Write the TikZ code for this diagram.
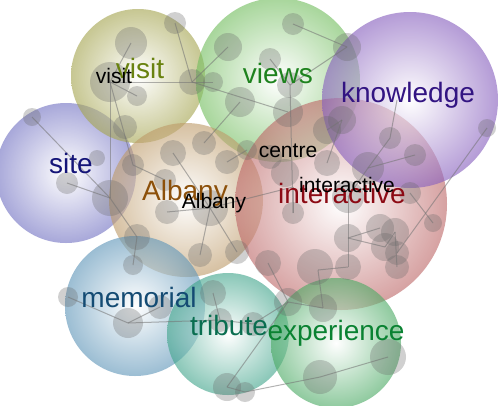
\documentclass[tikz,border=0pt]{standalone}
\usepackage{fontspec}
\setmainfont{Liberation Sans}
\definecolor{cVisit}{RGB}{165,165,80}
\definecolor{cViews}{RGB}{115,190,95}
\definecolor{cKnow}{RGB}{135,95,190}
\definecolor{cSite}{RGB}{115,115,195}
\definecolor{cAlb}{RGB}{190,155,105}
\definecolor{cInt}{RGB}{190,105,105}
\definecolor{cMem}{RGB}{95,150,185}
\definecolor{cTrib}{RGB}{65,165,140}
\definecolor{cExp}{RGB}{75,170,100}
\definecolor{tVisit}{RGB}{105,130,15}
\definecolor{tViews}{RGB}{30,130,30}
\definecolor{tKnow}{RGB}{50,20,130}
\definecolor{tSite}{RGB}{20,20,120}
\definecolor{tAlb}{RGB}{140,80,10}
\definecolor{tInt}{RGB}{140,10,20}
\definecolor{tMem}{RGB}{20,75,115}
\definecolor{tTrib}{RGB}{10,110,80}
\definecolor{tExp}{RGB}{10,130,50}
\tikzset{
  bub/.style={circle, inner sep=0pt, shade, inner color=white, outer color=#1, opacity=0.62},
  gnode/.style={circle, inner sep=0pt, fill=black!60, fill opacity=0.3},
  link/.style={draw=black!55, draw opacity=0.55, line width=1pt},
  bigword/.style={anchor=base, inner sep=0pt, font=\fontsize{28}{30}\selectfont, text=#1},
  smallword/.style={anchor=base, inner sep=0pt, font=\fontsize{21}{23}\selectfont, text=black}
}
\begin{document}
\begin{tikzpicture}[x=1pt, y=-1pt]
\fill[white] (0,0) rectangle (500,405);
\useasboundingbox (0,0) rectangle (500,405);
% big bubbles
\node[bub=cSite, minimum size=140pt] (bsite) at (66,173) {};
\node[bub=cVisit, minimum size=134pt] (bvisit) at (138,76) {};
\node[bub=cViews, minimum size=164pt] (bviews) at (278,80) {};
\node[bub=cAlb, minimum size=154pt] (balb) at (186,200) {};
\node[bub=cInt, minimum size=212pt] (bint) at (341,204) {};
\node[bub=cKnow, minimum size=176pt] (bknow) at (410,100) {};
\node[bub=cMem, minimum size=140pt] (bmem) at (135,306) {};
\node[bub=cTrib, minimum size=122pt] (btrib) at (228,334) {};
\node[bub=cExp, minimum size=130pt] (bexp) at (336,343) {};
% small grey nodes
\foreach \n/\x/\y/\r in {
 g1/175/23/11, g2/131/43/16, g3/110/82/20, g4/137/96/10, g5/192/82/13,
 g6/213/82/10, g7/228/47/14, g8/240/102/15, g9/125/127/12, g10/32/117/9,
 g11/97/158/8, g12/67/183/11, g13/133/165/11, g14/173/153/13, g15/204/143/12,
 g16/227/162/12, g17/110/198/18, g18/247/150/10, g19/293/24/11, g20/270/59/11,
 g21/290/85/13, g22/288/112/15, g23/347/47/14, g24/327/130/14, g25/342/120/14,
 g26/270/157/12, g27/285/173/14, g28/327/163/13, g29/390/138/11, g30/415/155/11,
 g31/368/168/16, g32/487/128/9, g33/348/197/16, g34/293/213/11, g35/410/193/11,
 g36/433/223/9, g37/348/238/14, g38/380/228/14, g39/395/232/14, g40/385/247/14,
 g41/397/253/12, g42/397/267/12, g43/268/263/13, g44/315/267/18, g45/348/267/13,
 g46/288/302/14, g47/323/308/14, g48/388/357/18, g49/320/377/17, g50/245/392/10,
 g51/227/387/14, g52/213/293/13, g53/253/324/12, g54/68/297/10, g55/128/323/15,
 g56/160/307/12, g57/137/237/13, g58/133/265/10, g59/167/212/12, g60/200/255/12,
 g61/237/252/12, g62/210/208/18, g64/165/180/11, g66/220/320/12}
 \node[gnode, minimum size=2*\r] (\n) at (\x,\y) {};
\coordinate (c1) at (293,187);
\coordinate (c2) at (318,270);
\coordinate (c3) at (397,100);
% links
\foreach \a/\b in {g1/g5, g3/g6, g5/g7, g5/g22, g2/g3, g3/g4, g3/g17, g3/g13,
 g10/g17, g12/g17, g17/g57, g57/g58, g13/g64, g14/g62, g15/g8, g16/g18,
 g62/g59, g62/g60, g62/g61, g19/g23, g23/g21, g20/g21, g21/g34, g25/g24,
 g28/g25, g32/g41, c3/g29, g29/g31, g30/g31, g31/g33, g35/g36, g33/g45,
 g45/c2, c2/g47, g47/g46, g43/g46, g46/g51, g51/g50, g50/g49, g49/g48,
 g46/g53, g53/g66, g55/g66, g52/g66, g54/g55, g55/g56, g37/g38, g37/g40,
 g40/g39, g39/g42, g62/c1, c1/g34}
 \draw[link] (\a.center) -- (\b.center);
% words
\node[bigword=tVisit] (wvisit) at (140,78) {visit};
\node[smallword] (svisit) at (114,83) {visit};
\node[bigword=tViews] (wviews) at (278,83) {views};
\node[bigword=tKnow] (wknow) at (408,102) {knowledge};
\node[bigword=tSite] (wsite) at (71,173) {site};
\node[bigword=tAlb] (walb) at (185,200) {Albany};
\node[smallword] (salb) at (214,208) {Albany};
\node[smallword] (scentre) at (288,157) {centre};
\node[bigword=tInt] (wint) at (342,203) {interactive};
\node[smallword] (sint) at (347,192) {interactive};
\node[bigword=tMem] (wmem) at (139,307) {memorial};
\node[bigword=tTrib] (wtrib) at (229,335) {tribute};
\node[bigword=tExp] (wexp) at (336,340) {experience};
\end{tikzpicture}
\end{document}
